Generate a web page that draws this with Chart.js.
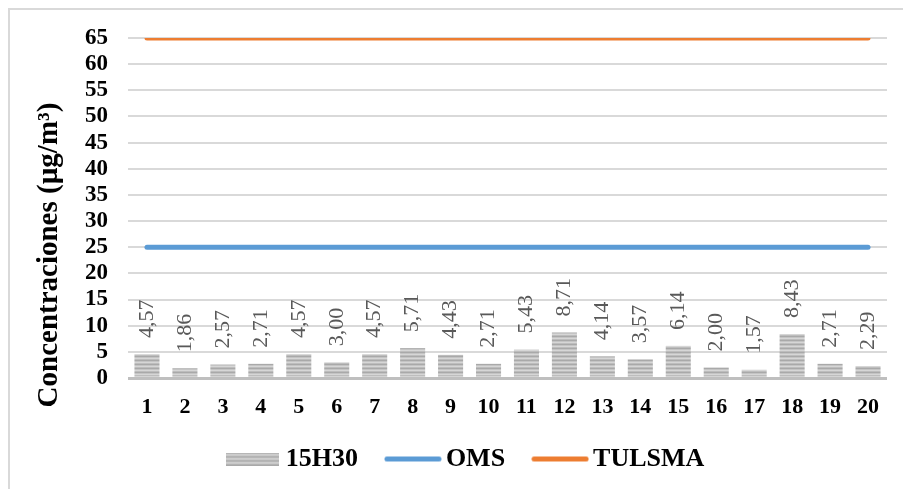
<!DOCTYPE html>
<html>
<head>
<meta charset="utf-8">
<script src="https://cdn.jsdelivr.net/npm/chart.js@4"></script>
<style>
  html, body { margin: 0; padding: 0; background: #ffffff; }
  #wrap { position: relative; width: 903px; height: 489px; }
</style>
</head>
<body>
<div id="wrap"><canvas id="chart" width="903" height="489"></canvas></div>
<script>
// Muestreos 1..20 y concentraciones medidas a las 15H30 (µg/m³)
const categories = ['1','2','3','4','5','6','7','8','9','10','11','12','13','14','15','16','17','18','19','20'];
const valores15H30 = [4.57, 1.86, 2.57, 2.71, 4.57, 3.00, 4.57, 5.71, 4.43, 2.71, 5.43, 8.71, 4.14, 3.57, 6.14, 2.00, 1.57, 8.43, 2.71, 2.29];
// Límites de referencia
const limiteOMS = [25, 25, 25, 25, 25, 25, 25, 25, 25, 25, 25, 25, 25, 25, 25, 25, 25, 25, 25, 25];
const limiteTULSMA = [65, 65, 65, 65, 65, 65, 65, 65, 65, 65, 65, 65, 65, 65, 65, 65, 65, 65, 65, 65];
const yTicks = [0, 5, 10, 15, 20, 25, 30, 35, 40, 45, 50, 55, 60, 65];
const yTitle = 'Concentraciones (µg/m³)';

const SERIF = "'Liberation Serif', 'Times New Roman', serif";
const BAR_INDEX = 2;

// Relleno rayado horizontal para las barras
function stripePattern(g) {
  const c = document.createElement('canvas');
  c.width = 4; c.height = 4;
  const p = c.getContext('2d');
  const rows = ['#a9a9a9', '#c4c4c4', '#d6d6d6', '#bdbdbd'];
  rows.forEach((col, i) => { p.fillStyle = col; p.fillRect(0, i, 4, 1); });
  return g.createPattern(c, 'repeat');
}
const barFill = stripePattern(document.createElement('canvas').getContext('2d'));

// Muestras de la leyenda
function barSwatch() {
  const c = document.createElement('canvas');
  c.width = 53; c.height = 13;
  const g = c.getContext('2d');
  g.fillStyle = stripePattern(g);
  g.fillRect(0, 0, 53, 13);
  return c;
}
function lineSwatch(color) {
  const c = document.createElement('canvas');
  c.width = 58; c.height = 7;
  const g = c.getContext('2d');
  g.strokeStyle = color;
  g.lineWidth = 5;
  g.lineCap = 'round';
  g.beginPath();
  g.moveTo(3, 3.5);
  g.lineTo(55, 3.5);
  g.stroke();
  return c;
}
const swatches = {
  '15H30': barSwatch(),
  'OMS': lineSwatch('#5b9bd5'),
  'TULSMA': lineSwatch('#ed7d31')
};

// Marco exterior del gráfico y título del eje vertical
const framePlugin = {
  id: 'frame',
  afterLayout(chart) {
    // deja espacio vertical suficiente para las etiquetas del eje X
    chart.scales.x.bottom += 24;
  },
  beforeDraw(chart) {
    const ctx = chart.ctx;
    ctx.save();
    ctx.fillStyle = '#ffffff';
    ctx.fillRect(0, 0, chart.width, chart.height);
    ctx.strokeStyle = '#d9d9d9';
    ctx.lineWidth = 2;
    ctx.strokeRect(9, 9, chart.width + 10, chart.height + 10);
    ctx.restore();
  },
  afterDraw(chart) {
    const ctx = chart.ctx;
    const area = chart.chartArea;
    ctx.save();
    ctx.font = 'bold 29px ' + SERIF;
    ctx.fillStyle = '#000000';
    ctx.textAlign = 'center';
    ctx.textBaseline = 'middle';
    ctx.translate(50, (area.top + area.bottom) / 2 + 47);
    ctx.rotate(-Math.PI / 2);
    ctx.fillText(yTitle, 0, 0);
    ctx.restore();
  }
};

// Etiquetas de valor verticales sobre cada barra
const barLabelsPlugin = {
  id: 'barLabels',
  afterDatasetsDraw(chart) {
    const meta = chart.getDatasetMeta(BAR_INDEX);
    const ctx = chart.ctx;
    ctx.save();
    ctx.font = '22px ' + SERIF;
    ctx.fillStyle = '#595959';
    ctx.textAlign = 'left';
    ctx.textBaseline = 'middle';
    meta.data.forEach((bar, i) => {
      const txt = valores15H30[i].toFixed(2).replace('.', ',');
      ctx.save();
      ctx.translate(bar.x, bar.y - 16);
      ctx.rotate(-Math.PI / 2);
      ctx.fillText(txt, 0, 0);
      ctx.restore();
    });
    ctx.restore();
  }
};

new Chart(document.getElementById('chart'), {
  data: {
    labels: categories,
    datasets: [
      {
        type: 'line',
        label: 'OMS',
        data: limiteOMS,
        borderColor: '#5b9bd5',
        backgroundColor: '#5b9bd5',
        borderWidth: 5,
        borderCapStyle: 'round',
        pointRadius: 0,
        order: 1
      },
      {
        type: 'line',
        label: 'TULSMA',
        data: limiteTULSMA,
        borderColor: '#ed7d31',
        backgroundColor: '#ed7d31',
        borderWidth: 5,
        borderCapStyle: 'round',
        pointRadius: 0,
        order: 1
      },
      {
        type: 'bar',
        label: '15H30',
        data: valores15H30,
        backgroundColor: barFill,
        borderWidth: 0,
        barPercentage: 0.66,
        categoryPercentage: 1.0,
        order: 2
      }
    ]
  },
  options: {
    responsive: false,
    animation: false,
    devicePixelRatio: 1,
    layout: { padding: { top: 38, right: 16, bottom: 7, left: 50 } },
    scales: {
      x: {
        grid: { display: false, drawTicks: false },
        border: { display: false },
        ticks: {
          color: '#000000',
          font: { family: SERIF, size: 22, weight: 'bold' },
          padding: 16,
          maxRotation: 0,
          autoSkip: false
        },
        afterFit(scale) { scale.height = 33; }
      },
      y: {
        min: 0,
        max: 65,
        afterBuildTicks(scale) { scale.ticks = yTicks.map(v => ({ value: v })); },
        grid: {
          drawTicks: false,
          color: ctx => (ctx.tick && ctx.tick.value === 0 ? '#bfbfbf' : '#d9d9d9'),
          lineWidth: ctx => (ctx.tick && ctx.tick.value === 0 ? 3 : 2)
        },
        border: { display: false },
        ticks: {
          color: '#000000',
          font: { family: SERIF, size: 23, weight: 'bold' },
          padding: 20,
          autoSkip: false
        },
        title: { display: false },
        afterFit(scale) { scale.width = 78; }
      }
    },
    plugins: {
      tooltip: { enabled: false },
      legend: {
        position: 'bottom',
        labels: {
          color: '#000000',
          font: { family: SERIF, size: 26, weight: 'bold' },
          usePointStyle: true,
          pointStyleWidth: 40,
          boxHeight: 13,
          padding: 35,
          sort: (a, b) => ['15H30', 'OMS', 'TULSMA'].indexOf(a.text) - ['15H30', 'OMS', 'TULSMA'].indexOf(b.text),
          generateLabels(chart) {
            const items = Chart.defaults.plugins.legend.labels.generateLabels(chart);
            items.forEach(it => {
              it.pointStyle = swatches[it.text];
              it.lineWidth = 0;
            });
            return items;
          }
        }
      }
    }
  },
  plugins: [framePlugin, barLabelsPlugin]
});
</script>
</body>
</html>
